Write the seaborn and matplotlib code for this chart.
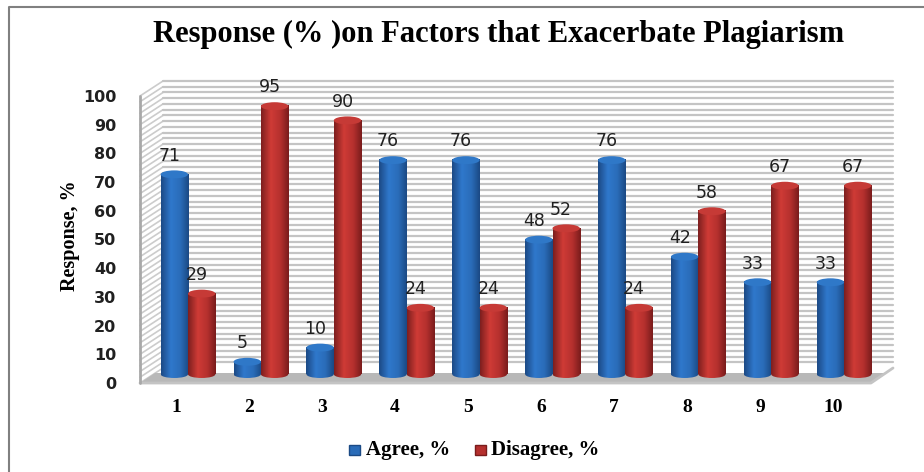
import numpy as np
import pandas as pd
import seaborn as sns
from matplotlib import pyplot as plt
from matplotlib.colors import to_rgb
from matplotlib.patches import Ellipse, Polygon

categories = ['1', '2', '3', '4', '5', '6', '7', '8', '9', '10']
agree = [71, 5, 10, 76, 76, 48, 76, 42, 33, 33]
disagree = [29, 95, 90, 24, 24, 52, 24, 58, 67, 67]
y_ticks = list(range(0, 101, 10))

W, H = 924, 472


def px_axes(fig, left, right, top, bottom):
    # axes placed by pixel edges, y counted from the top of the image
    return fig.add_axes([left / W, 1 - bottom / H, (right - left) / W, (bottom - top) / H])


df = pd.DataFrame({
    'cat': categories * 2,
    'series': ['Agree, %'] * 10 + ['Disagree, %'] * 10,
    'value': agree + disagree,
})

sns.set_theme(style='white')
fig = plt.figure(figsize=(W / 100, H / 100), dpi=100, facecolor='white')

# whole image in pixels, for frame and the fake 3D walls
bg = fig.add_axes([0, 0, 1, 1])
bg.set_xlim(0, W)
bg.set_ylim(H, 0)
bg.axis('off')
bg.plot([9, 9, W], [H, 6.5, 6.5], color='#808080', lw=1.5)

bg.add_patch(Polygon([(140, 96), (163, 81), (163, 368), (140, 383)], fc='white', ec='none'))
for v in range(0, 101, 2):
    yy = 383 - v * 2.87
    bg.plot([140, 163], [yy, yy - 15], color='#cccccc', lw=1.2)
    if v > 0:
        bg.plot([163, 893], [yy - 15, yy - 15], color='#c4c4c4', lw=1.6)
bg.add_patch(Polygon([(140, 383), (155, 373), (885, 373), (893, 368), (871, 383)], fc='#b8b8b8', ec='none', zorder=3))
bg.plot([140, 871, 893], [383, 383, 368], color='#c4c4c4', lw=2, zorder=3)
bg.plot([140, 140], [96, 383], color='#a8a8a8', lw=2, zorder=3)

# front plane carries the value axis labels
wall = px_axes(fig, 140, 871, 96, 383)
wall.patch.set_alpha(0)
wall.set_ylim(0, 100)
wall.set_xticks([])
wall.set_yticks(y_ticks)
wall.tick_params(axis='y', length=0, pad=17)
for lab in wall.get_yticklabels():
    lab.set_fontsize(11.5)
    lab.set_fontweight('bold')
    lab.set_color('#202020')
    lab.set_family('DejaVu Sans')
sns.despine(ax=wall, left=True, bottom=True)
wall.set_ylabel('Response, %', family='Liberation Serif', fontsize=14.5, fontweight='bold', color='black',
                labelpad=2, y=0.515)

# bars, baseline 376 and 2.84 px per unit, 3 units of room below for the round base
ax = px_axes(fig, 140, 893, 376 - 100 * 2.84, 376 + 3 * 2.84)
ax.patch.set_alpha(0)
sns.barplot(data=df, x='cat', y='value', hue='series', order=categories, ax=ax,
            palette=['#2a6cb8', '#b5302e'], width=0.75, gap=0, legend=False, saturation=1)
step = 72.9
ax.axis('off')

shades = [
    (['#1c4a86', '#2f78cc', '#2a6cb8', '#1b4a85'], '#2f78c8'),
    (['#7e1f1f', '#cf3b36', '#b5302e', '#7a1c1c'], '#c63a36'),
]
bars = sorted([p for p in ax.patches if p.get_height() > 0], key=lambda p: p.get_x())
for p in bars:
    x0, w, h = p.get_x(), p.get_width(), p.get_height()
    s = 0 if p.get_facecolor()[2] > p.get_facecolor()[0] else 1
    rgb = np.array([to_rgb(c) for c in shades[s][0]])
    t = np.linspace(0, 1, 40)
    grad = np.stack([np.interp(t, [0, 0.35, 0.7, 1], rgb[:, i]) for i in range(3)], axis=1)[None, :, :]
    # cylinder base, then body, then lighter cap
    base = Ellipse((x0 + w / 2, 0.6), w, 2.6, fc='none', ec='none')
    ax.add_patch(base)
    im = ax.imshow(grad, extent=[x0, x0 + w, -2, 2], aspect='auto', zorder=3)
    im.set_clip_path(base)
    ax.imshow(grad, extent=[x0, x0 + w, 0.6, h], aspect='auto', zorder=3)
    ax.add_patch(Ellipse((x0 + w / 2, h), w, 2.8, fc=shades[s][1], ec='none', zorder=4, clip_on=False))
    p.set_visible(False)
    ax.annotate(f'{h:.0f}', (x0 + w / 2, h), xytext=(-3.6, 7), textcoords='offset points', ha='center',
                va='bottom', fontsize=12.5, family='DejaVu Sans', color='#202020', annotation_clip=False,
                zorder=5)
ax.set_xlim(-(188 - 140) / step, (893 - 188) / step)
ax.set_ylim(-3, 100)

for i, c in enumerate(categories):
    bg.text(176 + 73 * i, 407, c, ha='center', va='center', family='Liberation Serif',
            fontsize=14, fontweight='bold', color='black')

fig.text(499 / W, 1 - 34 / H, 'Response (% )on Factors that Exacerbate Plagiarism', ha='center', va='center',
         family='Liberation Serif', fontsize=22, fontweight='bold', color='black')

# legend
bg.add_patch(plt.Rectangle((349, 445), 11, 10, fc='#2a6cb8', ec='#1b4a85'))
bg.text(366, 450, 'Agree, %', va='center', family='Liberation Serif', fontsize=15, fontweight='bold', color='black')
bg.add_patch(plt.Rectangle((475, 445), 11, 10, fc='#b5302e', ec='#7a1c1c'))
bg.text(491, 450, 'Disagree, %', va='center', family='Liberation Serif', fontsize=15, fontweight='bold', color='black')

fig.savefig('out.png', dpi=100)
